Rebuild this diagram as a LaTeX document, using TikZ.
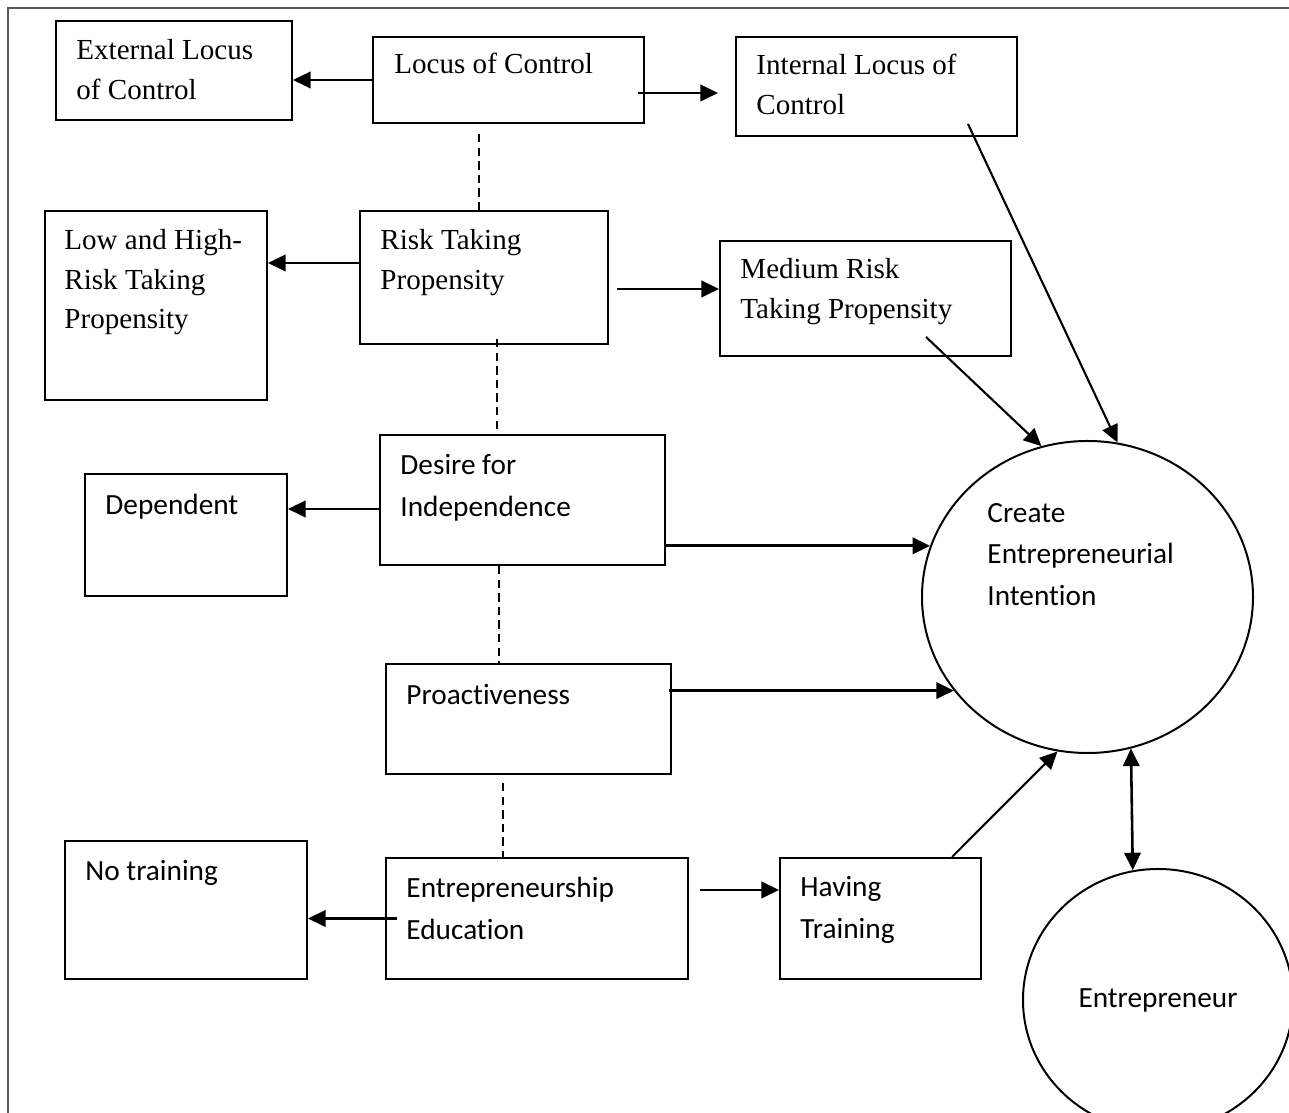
\documentclass[tikz,border=0pt]{standalone}
\usepackage{fontspec}
\setmainfont{Liberation Serif}
\newfontfamily\calibri[Ligatures=NoCommon]{Carlito}
\usetikzlibrary{arrows.meta,calc,shapes.geometric}

\begin{document}
\begin{tikzpicture}[
  x=0.015cm, y=-0.015cm,
  >={Triangle[length=7.5pt,width=7pt]},
  box/.style={rectangle, draw, line width=0.85pt, inner sep=0pt},
  oval/.style={ellipse, draw, line width=0.85pt, inner sep=0pt},
  serif/.style={anchor=north west, inner sep=0pt, align=left, font=\fontsize{12.4}{16.9}\selectfont},
  sans/.style={anchor=north west, inner sep=0pt, align=left, font=\calibri\fontsize{12.5}{17.7}\selectfont},
  arr/.style={->, line width=1.2pt},
  diag/.style={->, line width=0.9pt},
  link/.style={dash pattern=on 3.6pt off 2.2pt, line width=0.6pt},
  frame/.style={line width=0.85pt, color=black!65},
]
\useasboundingbox (0,0) rectangle (1289,1113);
\draw[frame] (8,1113) -- (8,8) -- (1289,8);

% === Row 1: locus of control ===
\node[box, minimum width=4.065cm, minimum height=1.29cm] (loc) at (508.5,80) {};
\node[box, minimum width=3.54cm, minimum height=1.485cm] (ext) at (174,70.5) {};
\node[box, minimum width=4.215cm, minimum height=1.485cm] (int) at (876.5,86.5) {};
\node[serif] (loctxt) at ([shift={(22,17)}]loc.north west) {Locus of Control};
\node[serif] (exttxt) at ([shift={(21,19)}]ext.north west) {External Locus\\of Control};
\node[serif] (inttxt) at ([shift={(21,18)}]int.north west) {Internal Locus of\\Control};

% === Row 2: risk taking ===
\node[box, minimum width=3.72cm, minimum height=1.995cm] (risk) at (484,277.5) {};
\node[box, minimum width=3.33cm, minimum height=2.835cm] (low) at (156,305.5) {};
\node[box, minimum width=4.365cm, minimum height=1.725cm] (medium) at (865.5,298.5) {};
\node[serif] (risktxt) at ([shift={(21,19)}]risk.north west) {Risk Taking\\Propensity};
\node[serif] (lowtxt) at ([shift={(20,19)}]low.north west) {Low and High-\\Risk Taking\\Propensity};
\node[serif] (mediumtxt) at ([shift={(21,18)}]medium.north west) {Medium Risk\\Taking Propensity};

% === Row 3: independence ===
\node[box, minimum width=4.275cm, minimum height=1.95cm] (desire) at (522.5,500) {};
\node[box, minimum width=3.03cm, minimum height=1.83cm] (dep) at (186,535) {};
\node[sans] (desiretxt) at ([shift={(21,20)}]desire.north west) {Desire for\\Independence};
\node[sans] (deptxt) at ([shift={(21,21)}]dep.north west) {Dependent};

% === Row 4: proactiveness ===
\node[box, minimum width=4.275cm, minimum height=1.65cm] (proact) at (528.5,719) {};
\node[sans] (proacttxt) at ([shift={(21,21)}]proact.north west) {Proactiveness};

% === Row 5: education ===
\node[box, minimum width=4.53cm, minimum height=1.815cm] (ee) at (537,918.5) {};
\node[box, minimum width=3.63cm, minimum height=2.07cm] (notrain) at (186,910) {};
\node[box, minimum width=3.015cm, minimum height=1.815cm] (having) at (880.5,918.5) {};
\node[sans] (eetxt) at ([shift={(21,20)}]ee.north west) {Entrepreneurship\\Education};
\node[sans] (notraintxt) at ([shift={(21,20)}]notrain.north west) {No training};
\node[sans] (havingtxt) at ([shift={(21,19)}]having.north west) {Having\\Training};

% === Outcomes ===
\node[oval, minimum width=4.965cm, minimum height=4.68cm] (create) at (1087.5,597) {};
\node[sans] (createtxt) at (987,503) {Create\\Entrepreneurial\\Intention};
\node[oval, minimum width=4.05cm, minimum height=3.93cm, font=\calibri\fontsize{12.5}{17.7}\selectfont] (entre) at (1158,1000) {Entrepreneur};

% === Side arrows ===
\draw[arr] (loc.west) -- (loc.west -| ext.east);
\draw[arr] ([shift={(-7,13)}]loc.east) -- ([shift={(-17,13)}]loc.east -| int.west);
\draw[arr] ([shift={(0,-14.5)}]risk.west) -- ([shift={(0,-14.5)}]risk.west -| low.east);
\draw[arr] ([shift={(8,11.5)}]risk.east) -- ([shift={(0,11.5)}]risk.east -| medium.west);
\draw[arr] ([shift={(0,9)}]desire.west) -- ([shift={(0,9)}]desire.west -| dep.east);
\draw[arr] ([shift={(12,0)}]ee.west) -- (ee.west -| notrain.east);
\draw[arr] ([shift={(11,-28.5)}]ee.east) -- ([shift={(0,-28.5)}]ee.east -| having.west);

% === Into the intention ===
\draw[arr] (desire.east |- create.162) -- (create.162);
\draw[arr] ([shift={(-3,0)}]proact.east |- create.215) -- (create.215);
\draw[diag] ([shift={(-50,-13)}]int.south east) -- (create.79);
\draw[diag] ([shift={(-86,-20)}]medium.south east) -- (create.107);
\draw[diag] ([shift={(-30,0)}]having.north east) -- (create.259);
\draw[<->, line width=1.1pt] (create.286) -- (entre.101);

% === Dashed links between dimensions ===
\draw[link] ([shift={(-29.5,10)}]loc.south) -- ([shift={(-29.5,0)}]loc.south |- risk.north);
\draw[link] ([shift={(13,-6)}]risk.south) -- ([shift={(13,0)}]risk.south |- desire.north);
\draw[link] ([shift={(-23.5,0)}]desire.south) -- ([shift={(-23.5,0)}]desire.south |- proact.north);
\draw[link] ([shift={(-25.5,8)}]proact.south) -- ([shift={(-25.5,0)}]proact.south |- ee.north);

\end{tikzpicture}
\end{document}
